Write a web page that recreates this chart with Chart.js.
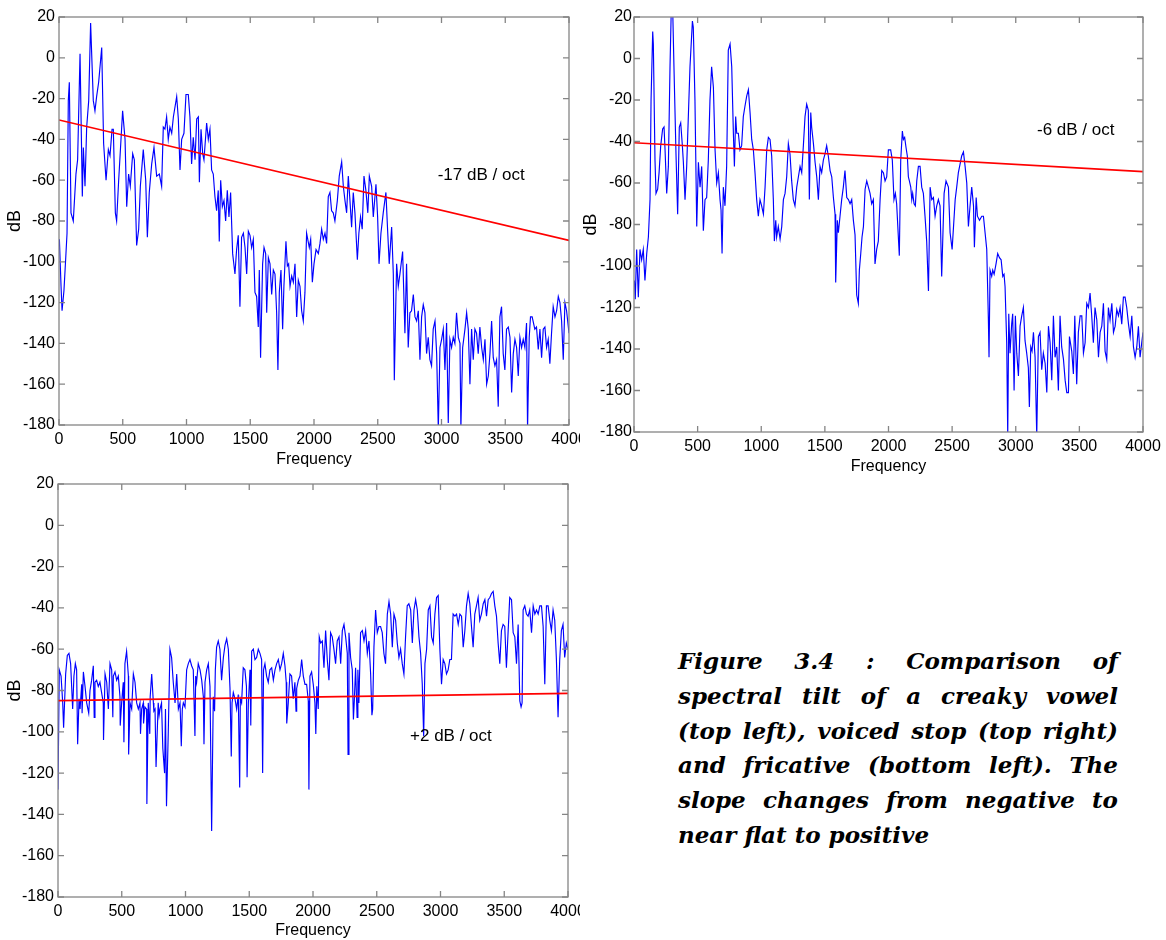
<!DOCTYPE html>
<html>
<head>
<meta charset="utf-8">
<script src="https://cdn.jsdelivr.net/npm/chart.js@4.4.1/dist/chart.umd.min.js"></script>
<style>
html,body{margin:0;padding:0;background:#fff;width:1166px;height:940px;overflow:hidden;}
canvas{position:absolute;}
#caption{position:absolute;left:678px;top:644px;width:440px;font-family:"DejaVu Serif",serif;font-weight:bold;font-style:italic;font-size:23px;line-height:34.8px;color:#000;}
#caption .j{display:flex;justify-content:space-between;height:34.8px;white-space:nowrap;}
#caption .l{height:34.8px;white-space:nowrap;}
</style>
</head>
<body>
<canvas id="c1" width="580" height="472" style="left:0;top:0"></canvas>
<canvas id="c2" width="586" height="480" style="left:580px;top:0"></canvas>
<canvas id="c3" width="580" height="472" style="left:0;top:470px"></canvas>
<div id="caption"></div>
<script>
// ---------- data ----------
const xTicks = [0,500,1000,1500,2000,2500,3000,3500,4000];
const yTicks = [20,0,-20,-40,-60,-80,-100,-120,-140,-160,-180];
const xTitle = 'Frequency';
const yTitle = 'dB';
const slopeLabels = ['-17 dB / oct', '-6 dB / oct', '+2 dB / oct'];
const captionLines = [
  'Figure 3.4 : Comparison of',
  'spectral tilt of a creaky vowel',
  '(top left), voiced stop (top right)',
  'and fricative (bottom left). The',
  'slope changes from negative to',
  'near flat to positive'
];

// tilt (red) lines: frequency end points and dB values
const tiltFreq = [0, 4000];
const vowelTilt = [-30.5, -89.5];
const stopTilt = [-40.6, -54.5];
const fricTilt = [-84.9, -81.4];

// creaky vowel spectrum (top left)
const vowelFreq = [3,16,24,39,52,63,73,81,94,112,
133,146,165,183,191,204,217,233,248,269,
282,295,311,335,350,369,387,400,416,426,
442,452,468,499,518,531,546,559,578,591,
609,625,638,661,680,693,708,727,745,766,
787,805,818,831,844,857,870,884,897,923,
936,949,962,980,996,1014,1027,1040,1053,1067,
1080,1093,1101,1114,1127,1137,1158,1171,1184,1197,
1210,1223,1236,1249,1257,1268,1281,1294,1307,1320,
1333,1346,1362,1380,1393,1406,1419,1432,1446,1459,
1472,1485,1498,1511,1524,1537,1550,1563,1571,1581,
1597,1608,1621,1629,1642,1655,1668,1681,1694,1707,
1717,1728,1741,1754,1764,1780,1791,1801,1812,1825,
1838,1851,1864,1877,1890,1903,1916,1929,1942,1963,
1974,1987,2000,2016,2034,2047,2060,2073,2086,2099,
2112,2125,2138,2151,2164,2183,2198,2217,2230,2243,
2256,2269,2282,2295,2308,2321,2340,2352,2365,2378,
2392,2407,2422,2434,2452,2465,2486,2499,2510,2525,
2543,2564,2577,2590,2609,2622,2630,2638,2648,2661,
2674,2695,2713,2726,2739,2752,2765,2779,2792,2805,
2818,2831,2844,2857,2870,2883,2896,2909,2922,2935,
2949,2962,2975,2988,3001,3014,3027,3040,3053,3066,
3079,3092,3105,3118,3132,3145,3152,3166,3184,3197,
3210,3223,3236,3249,3262,3275,3288,3301,3315,3328,
3341,3354,3367,3380,3393,3406,3419,3432,3445,3458,
3471,3484,3497,3510,3524,3537,3550,3563,3576,3589,
3602,3615,3628,3641,3654,3667,3675,3688,3698,3711,
3732,3745,3759,3772,3785,3798,3811,3824,3837,3850,
3863,3876,3890,3903,3916,3929,3942,3955,3968,3981,
4000];
const vowelDb = [-89,-112,-124,-114,-99,-86,-21,-12,-76,-80,
-57,-50,2,-68,-44,-63,-34,-21,17,-21,
-26,-19,-12,5,-42,-60,-45,-48,-35,-35,
-76,-80,-60,-26,-40,-73,-57,-63,-47,-50,
-92,-84,-63,-45,-60,-88,-66,-52,-44,-58,
-57,-63,-34,-35,-29,-40,-34,-37,-29,-19,
-30,-55,-40,-37,-18,-18,-29,-52,-39,-50,
-30,-29,-61,-35,-47,-50,-32,-40,-35,-55,
-57,-68,-75,-65,-90,-60,-73,-70,-80,-65,
-78,-66,-96,-106,-94,-87,-122,-88,-86,-93,
-106,-85,-87,-93,-89,-115,-117,-132,-104,-147,
-101,-93,-96,-125,-98,-101,-116,-104,-106,-125,
-153,-115,-104,-133,-112,-90,-102,-101,-112,-107,
-110,-101,-127,-109,-112,-124,-129,-115,-86,-93,
-89,-110,-101,-94,-96,-91,-84,-89,-86,-91,
-68,-66,-75,-76,-80,-70,-58,-51,-63,-70,
-76,-58,-70,-83,-66,-76,-99,-86,-78,-84,
-58,-65,-76,-58,-63,-78,-62,-78,-101,-86,
-76,-66,-84,-101,-83,-106,-158,-132,-101,-112,
-106,-95,-135,-101,-142,-125,-124,-116,-127,-129,
-124,-148,-127,-121,-125,-145,-137,-148,-151,-133,
-129,-145,-182,-142,-138,-133,-153,-130,-179,-138,
-142,-137,-140,-125,-137,-140,-182,-142,-133,-125,
-133,-160,-133,-148,-133,-135,-145,-132,-142,-148,
-138,-160,-156,-145,-129,-147,-151,-148,-171,-127,
-122,-145,-153,-133,-132,-137,-164,-145,-138,-142,
-156,-137,-142,-138,-142,-130,-182,-137,-127,-127,
-133,-132,-143,-133,-147,-133,-132,-142,-138,-150,
-135,-122,-127,-124,-117,-120,-129,-148,-120,-124,
-135];

// voiced stop spectrum (top right)
const stopFreq = [3,10,21,34,47,60,73,86,100,113,
126,134,147,152,165,173,186,197,210,225,
236,244,257,270,283,293,304,314,330,343,
356,367,380,388,401,414,440,459,466,479,
493,506,519,532,545,558,571,584,597,610,
624,637,650,663,676,684,692,702,715,728,
741,755,768,781,789,799,807,820,833,846,
859,872,886,899,912,925,938,951,964,977,
990,1003,1017,1030,1043,1056,1069,1082,1095,1103,
1114,1121,1134,1148,1161,1174,1187,1200,1213,1226,
1239,1252,1265,1279,1292,1305,1318,1331,1344,1357,
1370,1378,1389,1396,1410,1423,1436,1449,1462,1475,
1488,1501,1514,1527,1541,1554,1567,1580,1585,1598,
1606,1619,1632,1645,1658,1672,1685,1698,1711,1724,
1737,1750,1763,1771,1782,1792,1803,1816,1829,1842,
1855,1868,1881,1894,1907,1920,1934,1947,1960,1973,
1986,1999,2017,2030,2043,2054,2064,2085,2096,2109,
2117,2127,2138,2148,2156,2164,2175,2183,2190,2201,
2211,2222,2235,2248,2261,2274,2287,2300,2314,2327,
2340,2353,2366,2379,2392,2405,2418,2437,2452,2471,
2484,2500,2524,2536,2549,2562,2575,2589,2602,2615,
2628,2641,2654,2668,2675,2689,2699,2715,2733,2746,
2759,2772,2785,2790,2798,2811,2819,2830,2845,2858,
2872,2885,2898,2908,2916,2929,2937,2945,2955,2968,
2976,2987,2997,3008,3021,3034,3047,3060,3073,3086,
3099,3107,3118,3128,3139,3152,3165,3178,3191,3204,
3217,3231,3244,3257,3270,3283,3296,3309,3322,3335,
3348,3361,3375,3388,3401,3414,3422,3440,3453,3464,
3479,3492,3506,3519,3532,3545,3558,3571,3584,3597,
3610,3623,3637,3650,3663,3676,3689,3702,3715,3728,
3741,3755,3768,3781,3794,3807,3820,3833,3846,3859,
3872,3886,3899,3912,3925,3938,3951,3964,3977,3990,
4000];
const stopDb = [-107,-116,-92,-115,-92,-97,-92,-107,-94,-86,
-68,-20,13,7,-49,-65,-63,-55,-42,-34,
-33,-44,-65,-52,-4,24,24,-4,-46,-75,
-33,-31,-42,-50,-68,-52,-4,18,15,-20,
-81,-50,-62,-52,-83,-68,-67,-49,-20,-4,
-14,-44,-60,-55,-68,-73,-94,-62,-71,-52,
4,7,-4,-36,-52,-28,-36,-36,-44,-42,
-28,-23,-18,-15,-26,-39,-44,-55,-68,-76,
-68,-71,-75,-62,-44,-38,-39,-47,-68,-88,
-78,-86,-81,-87,-81,-68,-65,-57,-41,-46,
-59,-68,-71,-62,-57,-52,-55,-42,-28,-22,
-25,-68,-26,-33,-41,-50,-57,-68,-52,-55,
-49,-46,-42,-47,-54,-57,-67,-75,-108,-78,
-84,-76,-68,-62,-54,-67,-68,-70,-68,-78,
-85,-114,-118,-102,-94,-86,-81,-63,-59,-62,
-65,-70,-68,-99,-92,-88,-68,-54,-55,-59,
-57,-44,-44,-49,-68,-65,-70,-95,-49,-35,
-39,-38,-43,-47,-57,-59,-62,-68,-65,-70,
-71,-59,-52,-52,-62,-65,-76,-88,-112,-62,
-68,-67,-76,-71,-68,-71,-105,-65,-59,-62,
-84,-92,-68,-62,-55,-51,-47,-45,-52,-60,
-81,-71,-62,-71,-91,-67,-76,-78,-76,-76,
-84,-92,-126,-144,-102,-105,-102,-104,-99,-94,
-96,-97,-105,-104,-110,-137,-182,-123,-142,-128,
-123,-160,-124,-142,-153,-129,-124,-120,-136,-142,
-149,-168,-139,-141,-132,-144,-182,-134,-132,-150,
-142,-147,-161,-129,-137,-155,-124,-144,-139,-160,
-124,-139,-145,-155,-161,-161,-134,-141,-152,-124,
-157,-132,-124,-124,-142,-137,-118,-120,-113,-124,
-137,-120,-126,-144,-132,-129,-118,-141,-145,-120,
-126,-118,-132,-129,-121,-124,-120,-128,-115,-115,
-120,-128,-134,-124,-139,-144,-139,-129,-144,-137,
-132];

// fricative spectrum (bottom left)
const fricFreq = [0,10,24,37,44,60,73,86,99,107,
115,125,136,146,154,165,173,186,189,199,
212,225,241,251,264,277,284,290,303,316,
329,342,355,357,369,382,395,408,421,430,
434,447,460,473,486,488,499,512,517,525,
538,552,554,565,578,591,604,617,630,643,
647,656,669,671,682,695,697,708,720,723,
735,748,752,761,769,786,793,800,812,822,
836,843,851,865,878,891,904,918,931,944,
957,967,975,983,996,1009,1022,1035,1048,1061,
1074,1080,1087,1100,1114,1127,1140,1145,1153,1166,
1179,1192,1205,1218,1228,1234,1244,1257,1270,1283,
1297,1310,1323,1336,1349,1359,1365,1375,1388,1401,
1414,1425,1430,1440,1453,1466,1478,1483,1493,1506,
1512,1519,1532,1545,1558,1571,1584,1597,1605,1612,
1623,1636,1649,1662,1676,1689,1702,1715,1728,1741,
1754,1767,1780,1790,1794,1806,1819,1832,1845,1858,
1867,1872,1885,1898,1911,1924,1937,1950,1963,1968,
1976,1989,2002,2015,2022,2030,2041,2049,2060,2073,
2086,2099,2112,2125,2138,2151,2164,2177,2190,2204,
2217,2230,2243,2256,2269,2275,2282,2295,2308,2317,
2324,2334,2346,2352,2360,2373,2387,2400,2413,2426,
2439,2452,2462,2468,2478,2491,2504,2517,2530,2543,
2556,2569,2583,2596,2609,2622,2635,2648,2661,2674,
2687,2700,2713,2726,2739,2752,2766,2779,2792,2805,
2818,2831,2844,2857,2868,2878,2891,2904,2917,2930,
2943,2956,2969,2982,2995,3008,3021,3034,3047,3060,
3073,3086,3099,3113,3126,3139,3152,3165,3178,3191,
3204,3217,3230,3243,3256,3269,3282,3295,3308,3321,
3335,3348,3361,3374,3387,3400,3413,3426,3439,3452,
3465,3478,3491,3504,3517,3530,3543,3557,3570,3583,
3596,3609,3622,3632,3640,3648,3661,3674,3687,3700,
3714,3727,3740,3753,3766,3779,3792,3805,3818,3831,
3844,3857,3870,3883,3896,3909,3922,3935,3948,3961,
3974,3987,4000];
const fricDb = [-128,-70,-73,-86,-98,-72,-63,-62,-67,-78,
-89,-73,-67,-70,-106,-84,-89,-77,-91,-71,
-78,-86,-91,-80,-75,-68,-93,-76,-75,-78,
-76,-81,-86,-104,-72,-76,-89,-67,-70,-93,
-73,-71,-75,-73,-83,-97,-86,-76,-105,-67,
-61,-73,-111,-86,-89,-72,-76,-86,-89,-86,
-101,-89,-86,-96,-88,-89,-135,-86,-101,-83,
-72,-86,-90,-89,-117,-86,-92,-89,-86,-108,
-120,-89,-136,-100,-60,-64,-76,-86,-72,-89,
-86,-107,-89,-86,-88,-70,-67,-65,-68,-70,
-102,-73,-76,-67,-70,-75,-83,-106,-76,-70,
-67,-78,-148,-83,-90,-70,-59,-56,-60,-75,
-64,-58,-55,-60,-79,-112,-86,-81,-84,-89,
-82,-127,-84,-86,-69,-70,-78,-122,-86,-70,
-97,-61,-60,-65,-64,-60,-62,-65,-120,-70,
-67,-73,-76,-70,-69,-75,-70,-67,-65,-70,
-67,-62,-68,-76,-96,-86,-72,-73,-84,-76,
-90,-79,-75,-73,-65,-73,-77,-77,-85,-128,
-73,-71,-77,-86,-101,-78,-89,-54,-57,-56,
-69,-51,-65,-75,-52,-54,-60,-67,-56,-54,
-67,-51,-48,-54,-62,-111,-52,-64,-70,-94,
-85,-69,-93,-70,-86,-52,-51,-56,-51,-62,
-56,-72,-92,-89,-59,-41,-52,-49,-49,-52,
-62,-67,-43,-37,-43,-59,-43,-46,-57,-64,
-60,-67,-72,-54,-39,-38,-41,-57,-41,-36,
-41,-54,-62,-77,-102,-67,-60,-41,-39,-54,
-57,-43,-35,-34,-60,-77,-65,-67,-72,-70,
-65,-65,-43,-44,-43,-48,-43,-44,-59,-51,
-39,-33,-38,-49,-59,-43,-39,-35,-46,-43,
-38,-36,-44,-36,-35,-33,-32,-39,-44,-57,
-67,-51,-48,-49,-69,-52,-35,-36,-52,-54,
-67,-48,-85,-88,-86,-41,-39,-43,-44,-41,
-52,-39,-43,-41,-43,-39,-39,-49,-77,-39,
-39,-46,-51,-41,-46,-65,-93,-65,-51,-48,
-64,-57,-60];

// ---------- fonts ----------
function fontAvailable(fam){
  const c = document.createElement('canvas').getContext('2d');
  const s = '-180 Frequency 4000 dB';
  c.font = '40px monospace'; const a = c.measureText(s).width;
  c.font = '40px "' + fam + '", monospace'; const b = c.measureText(s).width;
  return Math.abs(a - b) > 0.5;
}
const NARROW = fontAvailable('Liberation Sans Narrow');
const tickFont = NARROW ? {family:'"Liberation Sans Narrow"', size:18, lineHeight:1.2}
                        : {family:'"Liberation Sans", Arial, sans-serif', size:16, lineHeight:1.2};
const noteFont = NARROW ? {family:'"Liberation Sans Narrow"', size:19}
                        : {family:'"Liberation Sans", Arial, sans-serif', size:17};
const yTitleFont = {family:'"Liberation Sans", Arial, sans-serif', size:18, lineHeight:1.2};

// ---------- frame plugin (box, inward ticks, slope note) ----------
const framePlugin = {
  id: 'frame',
  afterDatasetsDraw(chart, args, opts) {
    const {ctx, chartArea: a, scales: {x, y}} = chart;
    ctx.save();
    ctx.strokeStyle = '#858585';
    ctx.lineWidth = 1.3;
    ctx.strokeRect(a.left, a.top, a.right - a.left, a.bottom - a.top);
    const L = 6;
    ctx.beginPath();
    x.ticks.forEach(t => {
      const p = x.getPixelForValue(t.value);
      ctx.moveTo(p, a.bottom); ctx.lineTo(p, a.bottom - L);
      ctx.moveTo(p, a.top); ctx.lineTo(p, a.top + L);
    });
    y.ticks.forEach(t => {
      const p = y.getPixelForValue(t.value);
      ctx.moveTo(a.left, p); ctx.lineTo(a.left + L, p);
      ctx.moveTo(a.right, p); ctx.lineTo(a.right - L, p);
    });
    ctx.stroke();
    ctx.fillStyle = '#000';
    ctx.font = noteFont.size + 'px ' + noteFont.family;
    ctx.textAlign = 'left';
    ctx.textBaseline = 'middle';
    ctx.fillText(opts.text, x.getPixelForValue(opts.fx), y.getPixelForValue(opts.db));
    ctx.restore();
  }
};

function makeChart(id, g, freq, db, tilt, note) {
  const xAxisH = g.titleY - g.plotB + tickFont.size * 1.2 / 2;
  const points = freq.map((f, i) => ({x: f, y: db[i]}));
  const tiltPts = tiltFreq.map((f, i) => ({x: f, y: tilt[i]}));
  return new Chart(document.getElementById(id), {
    type: 'line',
    data: {
      datasets: [
        {data: tiltPts, borderColor: '#ff0000', borderWidth: 1.6, pointRadius: 0, tension: 0},
        {data: points, borderColor: '#0000ff', borderWidth: 1.15, pointRadius: 0, tension: 0}
      ]
    },
    options: {
      responsive: false,
      animation: false,
      devicePixelRatio: 1,
      events: [],
      layout: {padding: {left: 0, top: g.plotT, right: g.w - g.plotR, bottom: g.h - g.plotB - xAxisH}},
      plugins: {
        legend: {display: false},
        tooltip: {enabled: false},
        frame: note
      },
      scales: {
        x: {
          type: 'linear', min: 0, max: 4000,
          afterBuildTicks: s => { s.ticks = xTicks.map(v => ({value: v})); },
          ticks: {autoSkip: false, maxRotation: 0, padding: 5, color: '#000', font: tickFont,
                  callback: v => String(v)},
          grid: {display: false, drawTicks: false},
          border: {display: false},
          title: {display: true, text: xTitle, color: '#000', font: tickFont, padding: 0},
          afterFit: s => { s.height = xAxisH; s.paddingLeft = 0; s.paddingRight = 0; }
        },
        y: {
          type: 'linear', min: -180, max: 20,
          afterBuildTicks: s => { s.ticks = yTicks.slice().reverse().map(v => ({value: v})); },
          ticks: {autoSkip: false, padding: g.yPad, color: '#000', font: tickFont,
                  callback: v => String(v)},
          grid: {display: false, drawTicks: false},
          border: {display: false},
          title: {display: true, text: yTitle, color: '#000', font: yTitleFont,
                  padding: {top: g.yTitlePad, bottom: 0}},
          afterFit: s => { s.width = g.plotL; s.paddingTop = 0; s.paddingBottom = 0; }
        }
      }
    },
    plugins: [framePlugin]
  });
}

makeChart('c1', {w:580, h:472, plotL:59, plotT:17, plotR:569, plotB:425, titleY:460, yPad:4, yTitlePad:4},
  vowelFreq, vowelDb, vowelTilt, {text: slopeLabels[0], fx: 2970, db: -57.8});
makeChart('c2', {w:586, h:480, plotL:54, plotT:17, plotR:563, plotB:432, titleY:466.5, yPad:2, yTitlePad:0},
  stopFreq, stopDb, stopTilt, {text: slopeLabels[1], fx: 3167, db: -34.5});
makeChart('c3', {w:580, h:472, plotL:58, plotT:14, plotR:568, plotB:427, titleY:460.5, yPad:4, yTitlePad:4},
  fricFreq, fricDb, fricTilt, {text: slopeLabels[2], fx: 2761, db: -102.4});

// ---------- caption ----------
const cap = document.getElementById('caption');
captionLines.forEach((line, i) => {
  const d = document.createElement('div');
  if (i < captionLines.length - 1) {
    d.className = 'j';
    line.split(' ').forEach(w => { const s = document.createElement('span'); s.textContent = w; d.appendChild(s); });
  } else {
    d.className = 'l';
    d.textContent = line;
  }
  cap.appendChild(d);
});
</script>
</body>
</html>
